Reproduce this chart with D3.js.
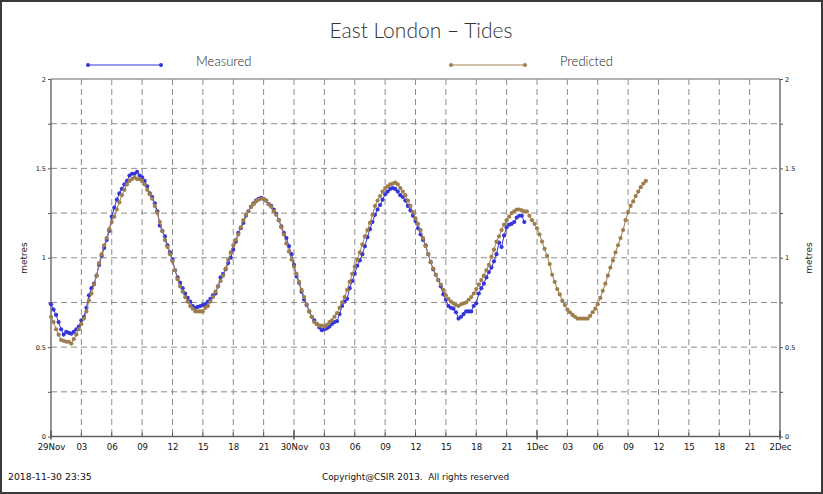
<!DOCTYPE html>
<html><head><meta charset="utf-8">
<script src="https://cdn.jsdelivr.net/npm/d3@7"></script>
<style>
html,body{margin:0;padding:0;background:#fff;}
svg{display:block;}
</style></head>
<body>
<svg id="chart" width="823" height="494"></svg>
<script>
// ---------- DATA ----------
const title = "East London – Tides";
const seriesNames = ["Measured", "Predicted"];
const stepHours = 0.25;            // one reading every 15 minutes, from 29 Nov 00:00
const xTickHours = [0,3,6,9,12,15,18,21,24,27,30,33,36,39,42,45,48,51,54,57,60,63,66,69,72];
const xTickLabels = ["29Nov","03","06","09","12","15","18","21","30Nov","03","06","09","12","15","18","21","1Dec","03","06","09","12","15","18","21","2Dec"];
const yTickValues = [0,0.5,1,1.5,2];
const yTickLabels = ["0","0.5","1","1.5","2"];
const yGridValues = [0.25,0.5,0.75,1,1.25,1.5,1.75];
const footerLeft = "2018-11-30 23:35";
const footerCenter = "Copyright@CSIR 2013.  All rights reserved";

const measured = [
0.74,0.71,0.68,0.64,0.60,0.57,0.585,0.58,0.575,0.585,0.60,0.615,0.65,0.67,0.72,0.79,
0.83,0.855,0.90,0.96,1.01,1.055,1.10,1.15,1.23,1.28,1.325,1.36,1.385,1.41,1.43,1.46,
1.47,1.47,1.48,1.46,1.45,1.43,1.40,1.36,1.34,1.305,1.26,1.18,1.15,1.12,1.07,1.03,
0.99,0.93,0.89,0.86,0.83,0.80,0.775,0.755,0.73,0.72,0.725,0.73,0.735,0.74,0.755,0.77,
0.79,0.80,0.84,0.89,0.91,0.935,0.97,1.00,1.045,1.09,1.14,1.165,1.195,1.235,1.26,1.285,
1.305,1.32,1.33,1.335,1.33,1.32,1.30,1.29,1.27,1.245,1.21,1.175,1.14,1.11,1.065,1.02,
0.96,0.895,0.86,0.81,0.765,0.735,0.70,0.67,0.65,0.63,0.61,0.595,0.60,0.605,0.615,0.63,
0.64,0.645,0.685,0.73,0.755,0.77,0.83,0.87,0.91,0.955,0.985,1.02,1.065,1.115,1.16,1.20,
1.24,1.27,1.295,1.325,1.355,1.37,1.385,1.39,1.385,1.37,1.35,1.34,1.32,1.29,1.265,1.235,
1.205,1.165,1.13,1.10,1.07,1.02,0.975,0.935,0.905,0.875,0.84,0.795,0.765,0.73,0.72,0.715,
0.695,0.66,0.67,0.685,0.70,0.70,0.70,0.73,0.745,0.80,0.83,0.855,0.89,0.92,0.945,0.98,
1.02,1.085,1.06,1.125,1.17,1.185,1.19,1.20,1.225,1.235,1.235,1.20
];

const predicted = [
0.67,0.64,0.60,0.57,0.54,0.535,0.53,0.53,0.52,0.545,0.57,0.60,0.63,0.66,0.70,0.76,
0.80,0.85,0.90,0.97,1.02,1.07,1.11,1.16,1.20,1.23,1.27,1.31,1.35,1.38,1.41,1.43,
1.44,1.45,1.44,1.44,1.43,1.41,1.38,1.355,1.33,1.29,1.25,1.20,1.15,1.10,1.06,1.02,
0.98,0.93,0.88,0.84,0.81,0.78,0.755,0.73,0.715,0.70,0.70,0.70,0.70,0.72,0.73,0.755,
0.78,0.81,0.84,0.87,0.90,0.94,0.99,1.03,1.07,1.10,1.13,1.17,1.21,1.24,1.26,1.285,
1.30,1.315,1.325,1.33,1.33,1.32,1.30,1.285,1.26,1.24,1.21,1.17,1.13,1.08,1.035,0.99,
0.95,0.91,0.865,0.82,0.78,0.74,0.70,0.67,0.64,0.63,0.62,0.62,0.615,0.625,0.64,0.65,
0.67,0.69,0.72,0.75,0.78,0.82,0.865,0.91,0.95,0.99,1.03,1.075,1.12,1.155,1.195,1.24,
1.29,1.32,1.345,1.37,1.39,1.40,1.41,1.415,1.42,1.41,1.39,1.37,1.35,1.32,1.29,1.255,
1.22,1.19,1.155,1.11,1.065,1.02,0.975,0.94,0.905,0.875,0.85,0.82,0.79,0.77,0.755,0.745,
0.735,0.73,0.74,0.745,0.75,0.765,0.78,0.80,0.825,0.85,0.875,0.90,0.93,0.96,1.005,1.045,
1.09,1.12,1.155,1.185,1.21,1.23,1.25,1.26,1.27,1.27,1.265,1.26,1.26,1.235,1.21,1.19,
1.165,1.13,1.09,1.05,1.01,0.965,0.905,0.865,0.825,0.795,0.76,0.735,0.71,0.695,0.68,0.67,
0.66,0.66,0.66,0.66,0.66,0.675,0.695,0.715,0.74,0.775,0.815,0.855,0.90,0.945,0.985,1.03,
1.07,1.11,1.155,1.21,1.255,1.29,1.315,1.345,1.37,1.395,1.415,1.43
];

// ---------- STYLE ----------
const colMeasured = "#3535dc";
const colPredicted = "#9f7e4e";
const gridCol = "#8c8c8c";
const labelFont = "'DejaVu Sans', Verdana, sans-serif";
const titleFont = "Lato, 'Open Sans', sans-serif";

const svg = d3.select("#chart");
const W = 823, H = 494;
const L = 51, R = 780, T = 79, B = 436.5;

svg.append("rect").attr("x",1).attr("y",1).attr("width",W-2).attr("height",H-2)
  .attr("fill","#fff").attr("stroke","#3a3a3a").attr("stroke-width",2);

const x = d3.scaleLinear().domain([0,72]).range([L,R]);
const y = d3.scaleLinear().domain([0,2]).range([B,T]);

// grid
const g = svg.append("g");
g.selectAll("line.hg").data(yGridValues).join("line")
  .attr("x1",L).attr("x2",R).attr("y1",d=>y(d)).attr("y2",d=>y(d))
  .attr("stroke",gridCol).attr("stroke-width",1).attr("stroke-dasharray","6,4");
g.selectAll("line.vg").data(xTickHours.slice(1,-1)).join("line")
  .attr("x1",d=>x(d)).attr("x2",d=>x(d)).attr("y1",T).attr("y2",B)
  .attr("stroke",gridCol).attr("stroke-width",1).attr("stroke-dasharray","6,4");

// frame
svg.append("line").attr("x1",L).attr("x2",R).attr("y1",T).attr("y2",T).attr("stroke","#999").attr("stroke-width",1.5);
svg.append("line").attr("x1",L).attr("x2",L).attr("y1",T).attr("y2",B).attr("stroke","#707070").attr("stroke-width",1.5);
svg.append("line").attr("x1",R).attr("x2",R).attr("y1",T).attr("y2",B).attr("stroke","#707070").attr("stroke-width",1.5);
svg.append("line").attr("x1",L).attr("x2",R).attr("y1",B).attr("y2",B).attr("stroke","#606060").attr("stroke-width",1.5);

// axes via d3
const yAxisL = d3.axisLeft(y).tickValues([0,0.25,0.5,0.75,1,1.25,1.5,1.75,2])
  .tickSize(3).tickPadding(2)
  .tickFormat(d=>{const i=yTickValues.indexOf(d);return i>=0?yTickLabels[i]:"";});
const gyl = svg.append("g").attr("transform",`translate(${L},0)`).call(yAxisL);
const yAxisR = d3.axisRight(y).tickValues([0,0.25,0.5,0.75,1,1.25,1.5,1.75,2])
  .tickSize(3).tickPadding(2)
  .tickFormat(d=>{const i=yTickValues.indexOf(d);return i>=0?yTickLabels[i]:"";});
const gyr = svg.append("g").attr("transform",`translate(${R},0)`).call(yAxisR);
[gyl,gyr].forEach(a=>{
  a.select(".domain").remove();
  a.selectAll("line").attr("stroke","#555");
  a.selectAll("text").attr("font-family",labelFont).attr("font-size","6.5px").attr("fill","#111");
});

const xAxis = d3.axisBottom(x).tickValues(xTickHours).tickSize(0).tickPadding(7)
  .tickFormat((d,i)=>xTickLabels[i]);
const gx = svg.append("g").attr("transform",`translate(0,${B})`).call(xAxis);
gx.select(".domain").remove();
gx.selectAll("text").attr("font-family",labelFont).attr("font-size","8.6px").attr("fill","#111");
// x tick marks
svg.selectAll("line.xt").data(xTickHours).join("line")
  .attr("x1",d=>x(d)).attr("x2",d=>x(d))
  .attr("y1",(d,i)=>xTickLabels[i].length>2?B-6:B-4).attr("y2",(d,i)=>xTickLabels[i].length>2?B+3:B)
  .attr("stroke","#555").attr("stroke-width",(d,i)=>xTickLabels[i].length>2?1.5:1);

// axis titles
svg.append("text").attr("transform","translate(27,258) rotate(-90)")
  .attr("text-anchor","middle").attr("font-family",labelFont).attr("font-size","9px").attr("fill","#222").text("metres");
svg.append("text").attr("transform","translate(812,258) rotate(-90)")
  .attr("text-anchor","middle").attr("font-family",labelFont).attr("font-size","9px").attr("fill","#222").text("metres");

// series
function drawSeries(vals,col){
  const pts = vals.map((v,i)=>[i*stepHours,v]);
  const line = d3.line().x(d=>x(d[0])).y(d=>y(d[1]));
  svg.append("path").datum(pts).attr("d",line).attr("fill","none").attr("stroke",col).attr("stroke-width",1);
  svg.append("g").selectAll("circle").data(pts).join("circle")
    .attr("cx",d=>x(d[0])).attr("cy",d=>y(d[1])).attr("r",2.1).attr("fill",col);
}
drawSeries(measured,colMeasured);
drawSeries(predicted,colPredicted);

// title
svg.append("text").attr("x",421).attr("y",38).attr("text-anchor","middle")
  .attr("font-family",titleFont).attr("font-weight",300).attr("font-size","21px").attr("fill","#333")
  .text(title);

// legend
const legend = [
  {name:seriesNames[0],col:colMeasured,x1:88,x2:161,tx:196},
  {name:seriesNames[1],col:colPredicted,x1:451,x2:525,tx:560}
];
legend.forEach(l=>{
  svg.append("line").attr("x1",l.x1).attr("x2",l.x2).attr("y1",65).attr("y2",65).attr("stroke",l.col).attr("stroke-width",1);
  [l.x1,l.x2].forEach(cx=>svg.append("circle").attr("cx",cx).attr("cy",65).attr("r",2).attr("fill",l.col));
  svg.append("text").attr("x",l.tx).attr("y",66).attr("font-family",titleFont).attr("font-weight",300)
    .attr("font-size","13px").attr("fill","#222").text(l.name);
});

// footer
svg.append("text").attr("x",8).attr("y",480).attr("font-family",labelFont).attr("font-size","9.3px").attr("fill","#111").text(footerLeft);
svg.append("text").attr("x",322).attr("y",480).attr("font-family",labelFont).attr("font-size","9.3px").attr("fill","#111")
  .style("white-space","pre").attr("textLength",187).attr("lengthAdjust","spacingAndGlyphs").text(footerCenter);
</script>
</body></html>
